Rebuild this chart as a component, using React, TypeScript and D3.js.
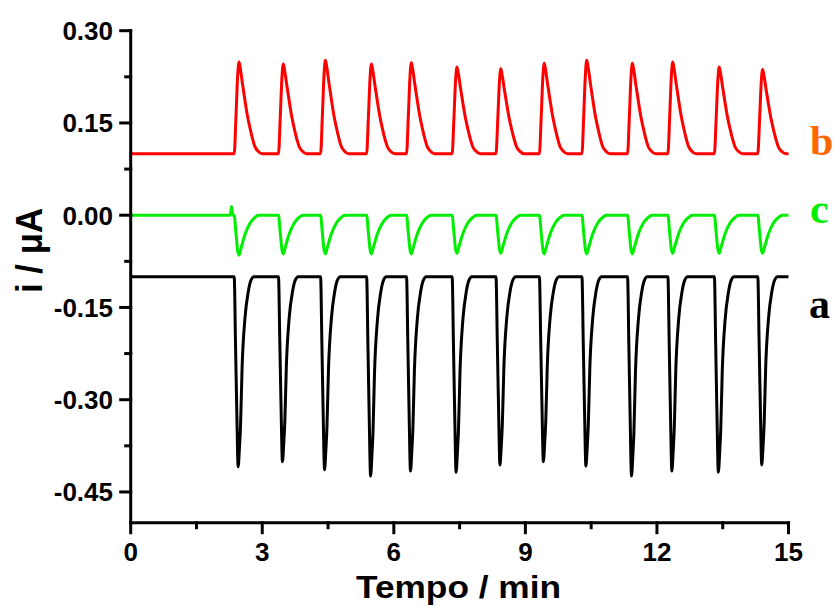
import React from "react";
import * as d3 from "d3";

// ---- data ----
const xTicks = [0, 3, 6, 9, 12, 15];
const xMinorTicks = [1.5, 4.5, 7.5, 10.5, 13.5];
const yTicks = [0.3, 0.15, 0.0, -0.15, -0.3, -0.45];
const yMinorTicks = [0.225, 0.075, -0.075, -0.225, -0.375];
const yTickLabels = ["0.30", "0.15", "0.00", "-0.15", "-0.30", "-0.45"];

// onset time of each injection (min)
const onsets = [2.36, 3.37, 4.33, 5.38, 6.29, 7.33, 8.33, 9.32, 10.29, 11.33, 12.25, 13.31, 14.3];

// baselines
const baseB = 0.1;
const baseC = 0.0;
const baseA = -0.1;

// extreme value reached at each injection
const peaksB = [0.249, 0.246, 0.252, 0.246, 0.248, 0.241, 0.238, 0.247, 0.252, 0.247, 0.249, 0.241, 0.237];
const minsC = [-0.065, -0.063, -0.063, -0.063, -0.063, -0.062, -0.062, -0.063, -0.063, -0.063, -0.062, -0.062, -0.062];
const minsA = [-0.409, -0.401, -0.414, -0.424, -0.416, -0.418, -0.406, -0.401, -0.408, -0.424, -0.416, -0.418, -0.406];

// pulse shape: [time since onset (min), fraction of amplitude]
const profileB: [number, number][] = [
  [0, 0], [0.04, 0.4], [0.08, 0.86], [0.11, 1], [0.14, 0.93], [0.19, 0.76], [0.24, 0.6],
  [0.3, 0.42], [0.36, 0.28], [0.42, 0.16], [0.47, 0.08], [0.54, 0.03], [0.64, 0],
];
const profileC: [number, number][] = [
  [0, 0], [0.04, 0.45], [0.08, 0.9], [0.11, 1], [0.15, 0.85], [0.24, 0.5], [0.36, 0.2],
  [0.47, 0.06], [0.56, 0],
];
const profileA: [number, number][] = [
  [0, 0], [0.03, 0.35], [0.06, 0.72], [0.09, 1], [0.12, 0.9], [0.145, 0.78], [0.18, 0.48],
  [0.245, 0.22], [0.32, 0.08], [0.38, 0.02], [0.45, 0],
];
// small spike on trace c just before the first injection
const extraC: [number, number][] = [[2.27, 0.0], [2.3, 0.014], [2.33, 0.0]];

const W = 834;
const H = 606;

function buildSeries(
  base: number,
  extremes: number[],
  profile: [number, number][],
  extra: [number, number][] = []
): [number, number][] {
  const pts: [number, number][] = [[0, base]];
  onsets.forEach((t0, i) => {
    profile.forEach(([dt, f]) => pts.push([t0 + dt, base + (extremes[i] - base) * f]));
  });
  extra.forEach((p) => pts.push(p));
  pts.push([15, base]);
  pts.sort((a, b) => a[0] - b[0]);
  return pts;
}

export default function App() {
  const x = d3.scaleLinear().domain([0, 15]).range([130.7, 788.5]);
  const y = d3.scaleLinear().domain([-0.5, 0.3]).range([522.7, 30.7]);

  const line = d3
    .line<[number, number]>()
    .x((d) => x(d[0]))
    .y((d) => y(d[1]))
    .curve(d3.curveMonotoneX);

  const seriesB = buildSeries(baseB, peaksB, profileB);
  const seriesC = buildSeries(baseC, minsC, profileC, extraC);
  const seriesA = buildSeries(baseA, minsA, profileA);

  const x0 = x(0);
  const y0 = y(-0.5);
  const font = "Arial, 'Liberation Sans', sans-serif";
  const serif = "'Times New Roman', 'Liberation Serif', serif";

  return (
    <svg
      width={W}
      height={H}
      style={{ position: "absolute", left: 0, top: 0, background: "#fff" }}
    >
      <rect width={W} height={H} fill="#fff" />
      {/* traces */}
      <path d={line(seriesB) || ""} fill="none" stroke="#ff0000" strokeWidth={3} strokeLinejoin="round" />
      <path d={line(seriesC) || ""} fill="none" stroke="#00ee00" strokeWidth={3} strokeLinejoin="round" />
      <path d={line(seriesA) || ""} fill="none" stroke="#000000" strokeWidth={3} strokeLinejoin="round" />

      {/* axes */}
      <g stroke="#000" strokeWidth={3} strokeLinecap="square">
        <line x1={x0} y1={y(0.3)} x2={x0} y2={y0} />
        <line x1={x0} y1={y0} x2={x(15)} y2={y0} />
        {yTicks.map((t) => (
          <line key={"yt" + t} x1={x0 - 10} x2={x0} y1={y(t)} y2={y(t)} />
        ))}
        {yMinorTicks.map((t) => (
          <line key={"ym" + t} x1={x0 - 5} x2={x0} y1={y(t)} y2={y(t)} />
        ))}
        {xTicks.map((t) => (
          <line key={"xt" + t} x1={x(t)} x2={x(t)} y1={y0} y2={y0 + 10} />
        ))}
        {xMinorTicks.map((t) => (
          <line key={"xm" + t} x1={x(t)} x2={x(t)} y1={y0} y2={y0 + 5} />
        ))}
      </g>

      {/* tick labels */}
      <g fontFamily={font} fontWeight="bold" fontSize={26} fill="#000">
        {yTicks.map((t, i) => (
          <text key={"yl" + t} x={113} y={y(t)} dy="0.36em" textAnchor="end">
            {yTickLabels[i]}
          </text>
        ))}
        {xTicks.map((t) => (
          <text key={"xl" + t} x={x(t)} y={561} textAnchor="middle">
            {String(t)}
          </text>
        ))}
      </g>

      {/* axis titles */}
      <text
        x={458.5}
        y={598}
        textAnchor="middle"
        fontFamily={font}
        fontWeight="bold"
        fontSize={31}
        textLength={205}
        lengthAdjust="spacingAndGlyphs"
      >
        Tempo / min
      </text>
      <text
        transform={`translate(41.5,250.5) rotate(-90)`}
        textAnchor="middle"
        fontFamily={font}
        fontWeight="bold"
        fontSize={37}
        textLength={85}
        lengthAdjust="spacingAndGlyphs"
      >
        i / μA
      </text>

      {/* series labels */}
      <g fontFamily={serif} fontWeight="bold" fontSize={42}>
        <text x={810} y={155} fill="#ff6600">b</text>
        <text x={810} y={223} fill="#00ee00">c</text>
        <text x={809} y={318} fill="#000">a</text>
      </g>
    </svg>
  );
}
